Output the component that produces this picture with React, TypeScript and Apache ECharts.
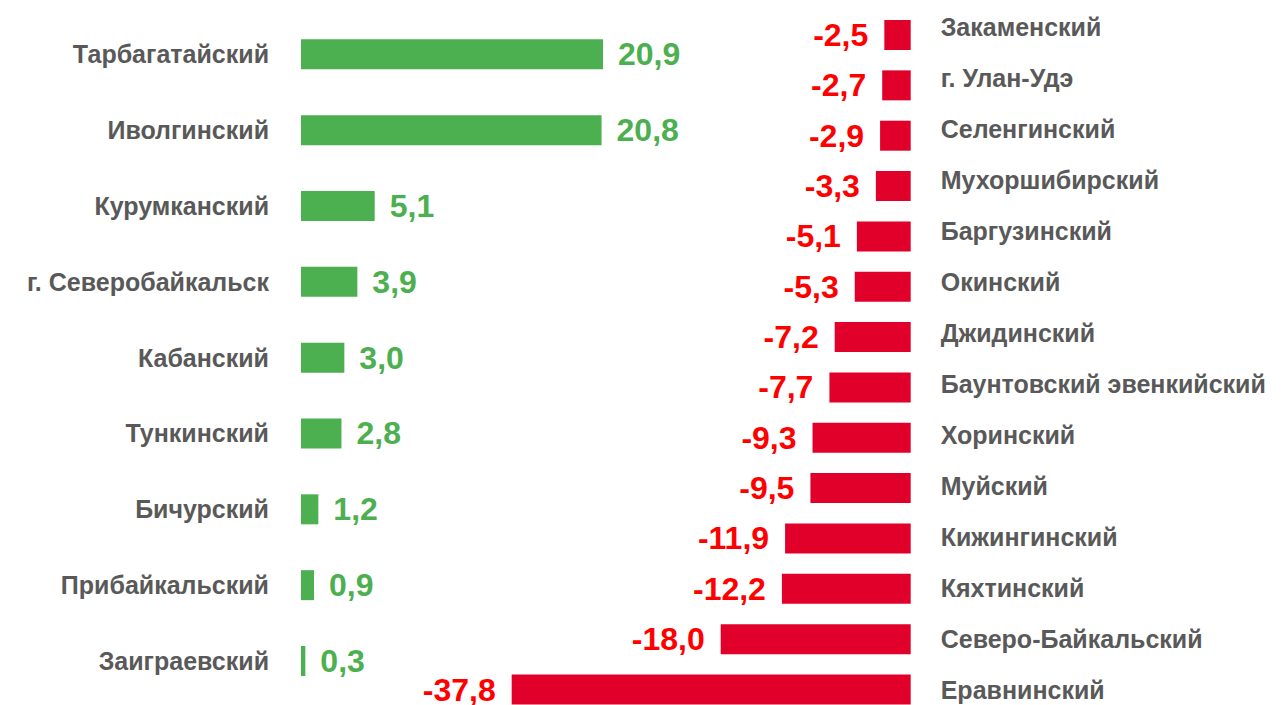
import React, { useEffect, useRef } from "react";
import * as echarts from "echarts";

const posCategories = [
  "Тарбагатайский",
  "Иволгинский",
  "Курумканский",
  "г. Северобайкальск",
  "Кабанский",
  "Тункинский",
  "Бичурский",
  "Прибайкальский",
  "Заиграевский",
];
const posValues = [20.9, 20.8, 5.1, 3.9, 3.0, 2.8, 1.2, 0.9, 0.3];

const negCategories = [
  "Закаменский",
  "г. Улан-Удэ",
  "Селенгинский",
  "Мухоршибирский",
  "Баргузинский",
  "Окинский",
  "Джидинский",
  "Баунтовский эвенкийский",
  "Хоринский",
  "Муйский",
  "Кижингинский",
  "Кяхтинский",
  "Северо-Байкальский",
  "Еравнинский",
];
const negValues = [-2.5, -2.7, -2.9, -3.3, -5.1, -5.3, -7.2, -7.7, -9.3, -9.5, -11.9, -12.2, -18.0, -37.8];

const FONT = "'Liberation Sans', Arial, sans-serif";
const GREEN = "#4CAF50";
const RED_BAR = "#E1002A";
const RED_TEXT = "#FF0000";
const GRAY = "#595959";

const fmt = (v: number) => v.toFixed(1).replace(".", ",");

export default function App() {
  const ref = useRef<HTMLDivElement>(null);
  useEffect(() => {
    if (!ref.current) return;
    const chart = echarts.init(ref.current, undefined, { renderer: "svg" });
    const leftScale = 14.45;
    const rightScale = 10.556;
    const catLabel = {
      color: GRAY,
      fontSize: 25,
      fontWeight: "bold",
      fontFamily: FONT,
    };
    const hiddenAxis = {
      axisLine: { show: false },
      axisTick: { show: false },
      splitLine: { show: false },
    };
    chart.setOption({
      animation: false,
      backgroundColor: "#ffffff",
      grid: [
        { left: 301, top: 54.3, width: 25 * leftScale, height: 661 - 54.3 },
        { left: 910.7 - 40 * rightScale, top: 35, width: 40 * rightScale, height: 689.5 - 35 },
        { left: 880, top: 27, width: 30.7, height: 690 - 27 },
      ],
      xAxis: [
        { type: "value", gridIndex: 0, min: 0, max: 25, show: false },
        { type: "value", gridIndex: 1, min: -40, max: 0, show: false },
        { type: "value", gridIndex: 2, min: 0, max: 1, show: false },
      ],
      yAxis: [
        {
          type: "category",
          gridIndex: 0,
          data: posCategories,
          inverse: true,
          boundaryGap: false,
          ...hiddenAxis,
          axisLabel: { ...catLabel, margin: 32, padding: [4, 0, 0, 0] },
        },
        {
          type: "category",
          gridIndex: 1,
          position: "right",
          data: negCategories,
          inverse: true,
          boundaryGap: false,
          ...hiddenAxis,
          axisLabel: { show: false },
        },
        {
          type: "category",
          gridIndex: 2,
          position: "right",
          data: negCategories,
          inverse: true,
          boundaryGap: false,
          ...hiddenAxis,
          axisLabel: { ...catLabel, margin: 30 },
        },
      ],
      series: [
        {
          type: "bar",
          xAxisIndex: 0,
          yAxisIndex: 0,
          data: posValues,
          barWidth: 30,
          itemStyle: { color: GREEN },
          label: {
            show: true,
            position: "right",
            distance: 15,
            color: GREEN,
            fontSize: 32,
            lineHeight: 28,
            fontWeight: "bold",
            fontFamily: FONT,
            formatter: (p: any) => fmt(p.value),
          },
        },
        {
          type: "bar",
          xAxisIndex: 1,
          yAxisIndex: 1,
          data: negValues,
          barWidth: 30,
          itemStyle: { color: RED_BAR },
          label: {
            show: true,
            position: "left",
            distance: 16,
            color: RED_TEXT,
            fontSize: 32,
            lineHeight: 28,
            fontWeight: "bold",
            fontFamily: FONT,
            formatter: (p: any) => fmt(p.value),
          },
        },
      ],
    });
    return () => chart.dispose();
  }, []);
  return (
    <div
      ref={ref}
      style={{ position: "fixed", left: 0, top: 0, width: 1288, height: 705 }}
    />
  );
}
